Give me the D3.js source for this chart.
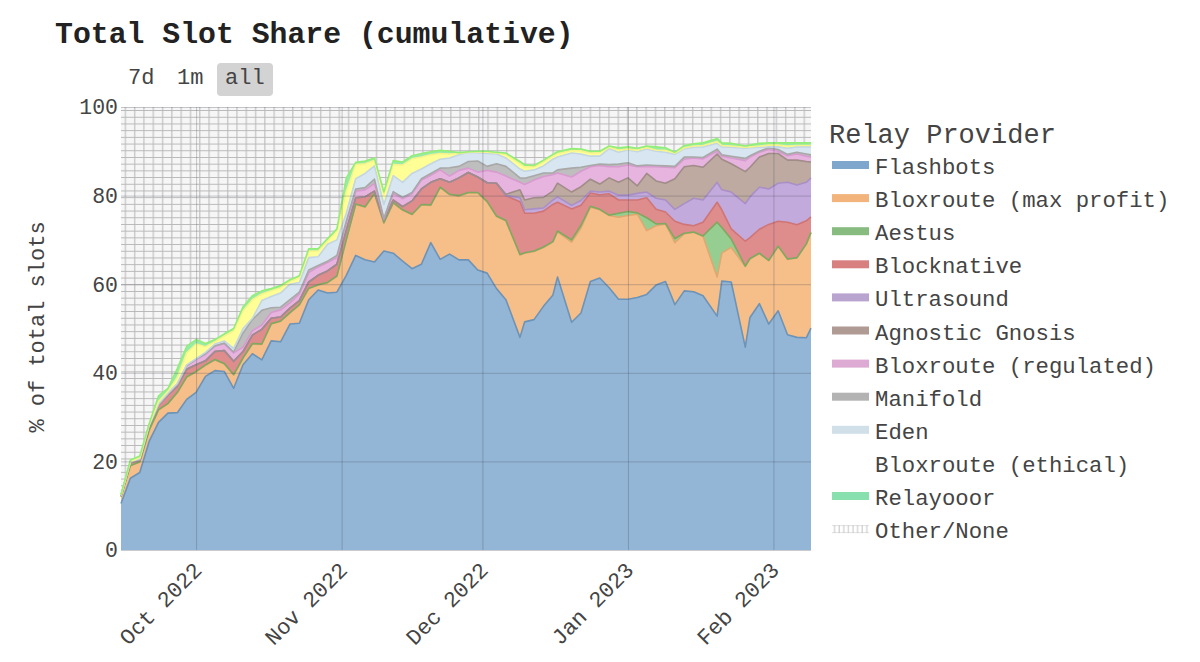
<!DOCTYPE html>
<html>
<head>
<meta charset="utf-8">
<script src="https://cdn.jsdelivr.net/npm/d3@7"></script>
<style>
  html, body { margin: 0; background: #fff; }
  text { font-family: "Liberation Mono", monospace; }
</style>
</head>
<body>
<svg width="1200" height="662"></svg>
<script>
const dates = [
  '2022-09-15','2022-09-17','2022-09-19','2022-09-21','2022-09-23','2022-09-25','2022-09-27','2022-09-29','2022-10-01','2022-10-03',
  '2022-10-05','2022-10-07','2022-10-09','2022-10-11','2022-10-13','2022-10-15','2022-10-17','2022-10-19','2022-10-21','2022-10-23',
  '2022-10-25','2022-10-27','2022-10-29','2022-10-31','2022-11-02','2022-11-04','2022-11-06','2022-11-08','2022-11-10','2022-11-12',
  '2022-11-14','2022-11-16','2022-11-18','2022-11-20','2022-11-22','2022-11-24','2022-11-26','2022-11-28','2022-11-30','2022-12-02',
  '2022-12-04','2022-12-06','2022-12-09','2022-12-10','2022-12-12','2022-12-14','2022-12-16','2022-12-17','2022-12-20','2022-12-22',
  '2022-12-24','2022-12-26','2022-12-28','2022-12-30','2023-01-01','2023-01-03','2023-01-05','2023-01-07','2023-01-09','2023-01-11',
  '2023-01-13','2023-01-15','2023-01-17','2023-01-20','2023-01-21','2023-01-23','2023-01-26','2023-01-27','2023-01-29','2023-01-31',
  '2023-02-02','2023-02-04','2023-02-06','2023-02-08','2023-02-09'
];

// cumulative level of each relay (% of total slots)
const flashbots = [
  10.5,16.2,17.5,24.5,28.8,30.9,31,34,35.6,39.2,
  40.5,40.3,36.5,41.8,44.3,42.9,47.2,47,51,51.2,
  56.5,58.7,58,58.2,62,66.5,65.5,65,67.5,67,
  65.2,63.5,64.5,69.4,65.6,66.8,65.5,65.5,63.2,62.5,
  59,56.5,48,51.5,52,55,57.5,61.6,51.4,53.5,
  60.6,61.4,59.2,56.6,56.6,57,57.7,59.8,60.6,55.4,
  58.5,58.3,57.4,52.8,60.7,60.5,45.8,52.5,55.6,51,
  54,48.6,48,47.9,50.1
];
const bloxrouteMax = [
  12,19,19.8,27,31.6,33,35.5,39,40.2,41.7,
  42.9,42,39.5,43.3,46.5,46.4,51,51.6,53.5,55.3,
  59,59.8,60.3,61.8,70,78,77.4,80.4,73.8,78.3,
  76.7,75.7,77.9,77.8,81.8,80.2,79.9,80.6,80.6,78.6,
  75.3,74.3,66.6,67,67.4,68.3,69.5,71.8,69.5,72.7,
  77.4,76.8,75.5,75.1,75.5,75.8,72.1,73.2,73.6,69.4,
  71.4,71.7,70.8,61.6,67,68.3,64,65.7,66.9,65.3,
  68.5,65.6,65.9,69,71.6
];
const aestus = [
  12.1,19.1,19.9,27.1,31.7,33.1,35.6,39.1,40.3,41.8,
  43,42.1,39.6,43.4,46.6,46.5,51.1,51.7,53.6,55.4,
  59.1,59.9,60.4,61.9,70.1,78.1,77.5,80.5,73.9,78.4,
  76.8,75.8,78,77.9,81.9,80.3,80,80.7,80.7,78.7,
  75.4,74.4,66.7,67.1,67.5,68.4,69.6,72,70,73.3,
  77.6,76.9,75.6,76,76.4,76.1,75,73.6,73.7,70.3,
  71.5,71.8,70.9,74,72.8,70.2,64.1,65.8,67,65.4,
  68.6,65.7,66,69.1,71.7
];
const blocknative = [
  12.3,19.7,20.4,28,32.7,35,37,40.8,41.8,42.7,
  44.8,45,42.6,44.8,48.5,49.8,52.3,52.6,54.6,56.3,
  60.5,62,63,64.5,72.2,79.5,79.7,81,74.5,79,
  77.5,78.8,81.5,83,83.8,83,84,85.2,84.2,82.9,
  82.8,80,78.6,76,76,76.5,78,78.5,77,77.8,
  80.6,80.2,80.4,79,79,79,79.5,76.9,76.3,74.2,
  73.5,73.2,74,78.5,76.8,72.5,69.7,70.5,72.4,73.5,
  74.2,74,73.4,74.3,75.2
];
const ultrasound = [
  12.3,19.7,20.4,28,32.7,35,37,40.8,41.8,42.7,
  44.8,45,42.6,44.8,48.5,49.8,52.3,52.6,54.6,56.3,
  60.5,62,63,64.5,72.2,79.5,79.7,81,74.5,79,
  77.5,78.8,81.5,83,83.8,83,84,85.2,84.2,82.9,
  82.8,80,79.5,76.8,77,77.2,79,79.7,77.8,78.9,
  81,80.8,81,80.1,80.1,80.5,80.8,79.4,79,76.9,
  78.2,79.4,79,83,81.3,80.8,78.2,79.7,81.9,81.5,
  82.8,83,82.4,83,84
];
const agnosticGnosis = [
  12.3,19.7,20.4,28,32.7,35,37,40.8,41.8,42.7,
  44.8,45,42.6,44.8,48.5,49.8,52.3,52.6,54.6,56.3,
  60.5,62,63,64.5,72.2,79.5,79.7,81,74.5,79,
  77.5,78.8,81.5,83,83.8,83,84,85.2,84.2,82.9,
  82.8,80.3,81.3,79,79.5,79.6,81,82.8,80.8,82,
  83.7,82.6,84,83,84,82.2,85,83.3,82.8,83.8,
  86.5,86.8,86.4,89.4,88.2,87.2,85.4,86.4,88.7,89.5,
  89.5,88,88,87.7,87.6
];
const bloxrouteRegulated = [
  12.3,19.8,20.5,28.1,32.8,35.2,37.4,41.6,43,44.2,
  46,46.6,44.5,45.8,49.5,50.8,53.6,54.2,55.8,57.8,
  62.6,63.9,64.9,66,73.8,81,81.3,82.7,74.7,80.5,
  79.3,80.4,83.5,84.6,85.8,84.4,85.7,86.2,85.3,85.7,
  85.3,84.4,83,82.5,83.5,84.3,84.7,85.1,84.2,85.5,
  86.5,86.8,86.5,86.5,86.9,86.5,86.5,86.5,86.4,86.3,
  88.2,88.5,88.3,90,88.9,88.5,87.9,88.7,89.8,90.4,
  90,89,89.4,88.9,88.7
];
const manifold = [
  12.3,19.8,20.5,28.1,32.8,35.2,37.4,41.6,43.1,44.3,
  46.1,46.7,44.7,49,52,54.1,54.7,54.8,56.5,58.2,
  63.2,64.2,65.2,66.5,74.2,81.5,81.8,83.7,74.8,80.9,
  79.6,80.7,83.8,85,86.2,86.3,86.6,87.7,87.8,86.6,
  87.2,86.6,84,83.9,84.5,85.1,85.1,85.8,86.2,86.4,
  86.8,87.1,87,87.1,87.4,86.7,86.9,86.8,86.7,86.6,
  88.7,88.7,88.6,90.5,89.2,88.9,88.4,89,90,90.8,
  90.4,89.3,89.8,89.4,89.2
];
const eden = [
  12.3,19.9,20.6,28.2,33,35.4,37.6,41.8,43.2,44.6,
  46.5,47.2,45.5,50,52.3,56.3,57.2,58,60,60.4,
  66,66.2,69,70,76,83.8,85,86.7,78,84.5,
  83,85,86,87.2,88.2,88.5,89.2,89.8,89.7,89.5,
  89.4,88.5,86,85.5,85.8,86.7,88.2,88.7,89.6,89.4,
  88.9,88.9,90.6,89.8,90.3,89.9,90.5,90,89.8,89.3,
  90.6,90.9,91,91.8,91,90.9,90.7,90.8,90.9,91,
  91,90.7,91,91,91
];
const bloxrouteEthical = [
  12.4,20,20.8,28.3,33.5,35.8,39,44.5,46.5,45.9,
  47,48.3,49.5,54,56.5,57.8,58.5,59.2,60.6,61.5,
  67.5,67.5,69.8,72,81,87,87.2,88,80.3,87,
  86.9,88.3,88.7,89.2,89.5,89.4,89.5,89.8,89.9,89.8,
  89.6,89.3,87.2,86.5,86.5,87.6,88.9,89.5,90.2,90.1,
  89.6,89.7,90.9,90.3,90.5,90.3,90.8,90.3,90.2,89.6,
  90.8,91.2,91.3,92.2,91.3,91.2,90.9,91,91.2,91.4,
  91.4,91.2,91.3,91.3,91.3
];
const relayooor = [
  12.5,20.3,21.2,28.5,34.8,36.5,41,46,47.5,46.6,
  47.5,48.8,50,54.9,57.4,58.5,59,59.7,61,61.9,
  68,68,70.3,72.5,84,87.5,87.8,88.5,80.8,87.9,
  87.6,89,89.5,89.9,90.2,90,89.7,89.9,90,90,
  89.8,89.6,87.7,87,86.8,88,89.3,89.9,90.6,90.5,
  90,90,91.2,90.8,91,90.7,91.2,91,90.8,89.8,
  91.3,91.7,91.9,92.9,91.9,91.8,91.2,91.4,91.8,91.9,
  91.9,91.9,91.9,91.9,91.9
];

const providers = ['Flashbots','Bloxroute (max profit)','Aestus','Blocknative','Ultrasound','Agnostic Gnosis',
  'Bloxroute (regulated)','Manifold','Eden','Bloxroute (ethical)','Relayooor','Other/None'];
const levels = [flashbots, bloxrouteMax, aestus, blocknative, ultrasound, agnosticGnosis,
  bloxrouteRegulated, manifold, eden, bloxrouteEthical, relayooor];
const fills = ['#94b6d6','#f6be89','#96cd91','#de8c8c','#c3aadc','#beaaa0','#e6b4de','#bebebe','#d7e6f0','#ffff96','#96ebaa'];
const strokes = ['#6c93b8','#e0a870','#7fa860','#cf7575','#a98fc6','#a08c88','#d79bcf','#a8a8a8','#c4d6e2','#f4f48a','#93ee78'];
const swatches = ['#7fa6cc','#f2b47b','#88bb80','#d88080','#b9a3cf','#b09a94','#ddaad3','#b3b3b3','#d0dfe8','none','#88e0ae'];
const yTicks = [0, 20, 40, 60, 80, 100];
const xTicks = ['2022-10-01','2022-11-01','2022-12-01','2023-01-01','2023-02-01'];
const rangeButtons = [['7d', 128], ['1m', 177], ['all', 225]];

const parse = d3.utcParse('%Y-%m-%d');
const days = dates.map(parse);

const svg = d3.select('svg');
const x = d3.scaleUtc().domain([parse('2022-09-15'), parse('2023-02-09')]).range([121, 811]);
const y = d3.scaleLinear().domain([0, 100]).range([550, 107]);

// hatch used for Other/None
const defs = svg.append('defs');
const hatch = defs.append('pattern').attr('id', 'hatch').attr('patternUnits', 'userSpaceOnUse')
  .attr('width', 9.3).attr('height', 6.7);
hatch.append('rect').attr('width', 9.3).attr('height', 6.7).attr('fill', '#f6f6f6');
hatch.append('path').attr('d', 'M4.5 0V6.7M0 3.3H9.3').attr('stroke', '#b8b8b8').attr('stroke-width', 1).attr('fill', 'none');
const hatchSmall = defs.append('pattern').attr('id', 'hatchSmall').attr('patternUnits', 'userSpaceOnUse')
  .attr('width', 4.6).attr('height', 8);
hatchSmall.append('path').attr('d', 'M2 0V8M0 4H4.6').attr('stroke', '#c4c4c4').attr('stroke-width', 1).attr('fill', 'none');

// the Other/None layer goes from the top of the stack up to 100
svg.append('path')
  .attr('d', d3.area().x((d, i) => x(days[i])).y0(d => y(d)).y1(y(100))(relayooor))
  .attr('fill', 'url(#hatch)');

levels.forEach((level, k) => {
  const below = k ? levels[k - 1] : null;
  const area = d3.area()
    .x((d, i) => x(days[i]))
    .y0((d, i) => y(below ? below[i] : 0))
    .y1(d => y(d));
  svg.append('path').attr('d', area(level)).attr('fill', fills[k]);
});
levels.forEach((level, k) => {
  const line = d3.line().x((d, i) => x(days[i])).y(d => y(d));
  svg.append('path').attr('d', line(level)).attr('fill', 'none')
    .attr('stroke', strokes[k]).attr('stroke-width', 1.6).attr('stroke-linejoin', 'round');
});

// axes, grid lines are drawn over the fills
const yAxis = svg.append('g').attr('transform', 'translate(121,0)')
  .call(d3.axisLeft(y).tickValues(yTicks).tickSize(-690).tickPadding(3));
yAxis.select('.domain').remove();
yAxis.selectAll('line').attr('stroke', 'rgba(60,70,85,0.28)');
yAxis.selectAll('text').attr('font-size', 21.5).attr('fill', '#444');

const xAxis = svg.append('g').attr('transform', 'translate(0,550)')
  .call(d3.axisBottom(x).tickValues(xTicks.map(parse)).tickSize(-443).tickFormat(d3.utcFormat('%b %Y')));
xAxis.select('.domain').remove();
xAxis.selectAll('line').attr('stroke', 'rgba(60,70,85,0.28)');
xAxis.selectAll('text')
  .attr('font-size', 22).attr('fill', '#444')
  .attr('text-anchor', 'end')
  .attr('transform', 'translate(1,16) rotate(-45)')
  .attr('x', 0).attr('y', 0).attr('dy', '0.35em');

svg.append('text').attr('x', 55).attr('y', 43)
  .attr('font-size', 29.8).attr('font-weight', 'bold').attr('fill', '#222')
  .text('Total Slot Share (cumulative)');

svg.append('text').attr('transform', 'translate(44,327) rotate(-90)')
  .attr('text-anchor', 'middle').attr('font-size', 22).attr('fill', '#444')
  .text('% of total slots');

// range buttons
svg.append('rect').attr('x', 217).attr('y', 63).attr('width', 56).attr('height', 33)
  .attr('rx', 4).attr('fill', '#d3d3d3');
svg.selectAll('.range').data(rangeButtons).join('text').attr('class', 'range')
  .attr('x', d => d[1]).attr('y', 84).attr('font-size', 22).attr('fill', '#444')
  .text(d => d[0]);

// legend
svg.append('text').attr('x', 829).attr('y', 143).attr('font-size', 27).attr('fill', '#444').text('Relay Provider');
const rows = svg.selectAll('.row').data(providers).join('g').attr('class', 'row')
  .attr('transform', (d, i) => `translate(0,${165 + i * 33.1})`);
rows.append('rect').attr('x', 832).attr('y', -4).attr('width', 37).attr('height', 8)
  .attr('fill', (d, i) => i === 11 ? 'url(#hatchSmall)' : swatches[i]);
rows.append('text').attr('x', 875).attr('y', 9).attr('font-size', 22.3).attr('fill', '#444').text(d => d);
</script>
</body>
</html>
